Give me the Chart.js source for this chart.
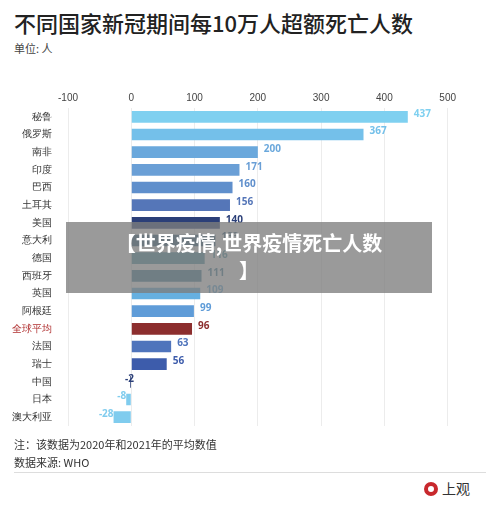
<!DOCTYPE html>
<html><head><meta charset="utf-8">
<script src="https://cdn.jsdelivr.net/npm/chart.js@4/dist/chart.umd.min.js"></script>
<style>
body{margin:0;width:500px;height:516px;background:#fff;font-family:"Noto Sans CJK SC",sans-serif;position:relative;overflow:hidden}
.t{position:absolute;left:14px;top:6px;font-size:22px;color:#222;font-weight:500}
.u{position:absolute;left:14px;top:40px;font-size:11px;color:#444}
.n{position:absolute;left:14px;font-size:11px;color:#333}
#wrap{position:absolute;left:0;top:88px;width:460px;height:352px}
.ban{position:absolute;left:66px;top:222px;width:366px;height:71px;background:rgba(125,125,125,0.78);color:#fff;font-weight:bold;font-size:20px;text-align:center;line-height:27px;padding-top:7px;box-sizing:border-box}
.hr{position:absolute;left:14px;top:472px;width:472px;border-top:1px solid #ddd}
.logo{position:absolute;left:424px;top:478px;font-size:14px;color:#333}
.logo i{display:inline-block;width:14px;height:14px;border:4px solid #c8282d;border-radius:50%;box-sizing:border-box;vertical-align:-2px;margin-right:4px}
</style></head><body>
<div class="t">不同国家新冠期间每10万人超额死亡人数</div>
<div class="u">单位: 人</div>
<div id="wrap"><canvas id="c"></canvas></div>
<div class="n" style="top:436px">注：该数据为2020年和2021年的平均数值</div>
<div class="n" style="top:454px">数据来源: WHO</div>
<div class="hr"></div>
<div class="logo"><i></i>上观</div>
<div class="ban">【世界疫情,世界疫情死亡人数<br>】</div>
<script>
const categories = ["秘鲁","俄罗斯","南非","印度","巴西","土耳其","美国","意大利","德国","西班牙","英国","阿根廷","全球平均","法国","瑞士","中国","日本","澳大利亚"];
const values = [437,367,200,171,160,156,140,133,116,111,109,99,96,63,56,-2,-8,-28];
const colors = ["#7fd0f0","#74c0ea","#6aa8dc","#6a9fd6","#5f8fcc","#5576b8","#2b3f78","#2f5f80","#4d95a8","#3f7f9c","#66b0e0","#5f9cd8","#8c2e2e","#4f74bc","#3d5cab","#2b3f78","#80ccee","#80ccee"];
const tickLabels = [-100,0,100,200,300,400,500];

const valueLabels = {
  id: "valueLabels",
  afterDatasetsDraw(chart) {
    const ctx = chart.ctx;
    const meta = chart.getDatasetMeta(0);
    ctx.save();
    ctx.font = "bold 10px 'Open Sans',sans-serif";
    ctx.textBaseline = "middle";
    meta.data.forEach((bar, i) => {
      const v = values[i];
      ctx.fillStyle = colors[i];
      if (v >= 0) { ctx.textAlign = "left"; ctx.fillText(v, bar.x + 6, bar.y - 3); }
      else { ctx.textAlign = "right"; ctx.fillText(v, bar.x + (v === -2 ? 4 : 0), bar.y - 3); }
    });
    ctx.restore();
  }
};

new Chart(document.getElementById("c"), {
  type: "bar",
  data: { labels: categories, datasets: [{ data: values, backgroundColor: colors, barPercentage: 0.95, categoryPercentage: 0.7 }] },
  plugins: [valueLabels],
  options: {
    indexAxis: "y", responsive: true, maintainAspectRatio: false, animation: false,
    layout: { padding: { right: 12 } },
    plugins: { legend: { display: false }, tooltip: { enabled: false } },
    scales: {
      x: { position: "top", min: -100, max: 500,
        afterBuildTicks: a => { a.ticks = tickLabels.map(v => ({ value: v })); },
        grid: { color: "#ececec", drawTicks: false }, border: { display: false },
        ticks: { color: "#444", font: { size: 10 }, padding: 4 } },
      y: { afterFit: a => { a.width = 68; },
        grid: { display: false }, border: { display: false },
        ticks: { color: c => c.index === 12 ? "#b03030" : "#333", font: { size: 10 }, padding: 8 } }
    }
  }
});
</script>
</body></html>
